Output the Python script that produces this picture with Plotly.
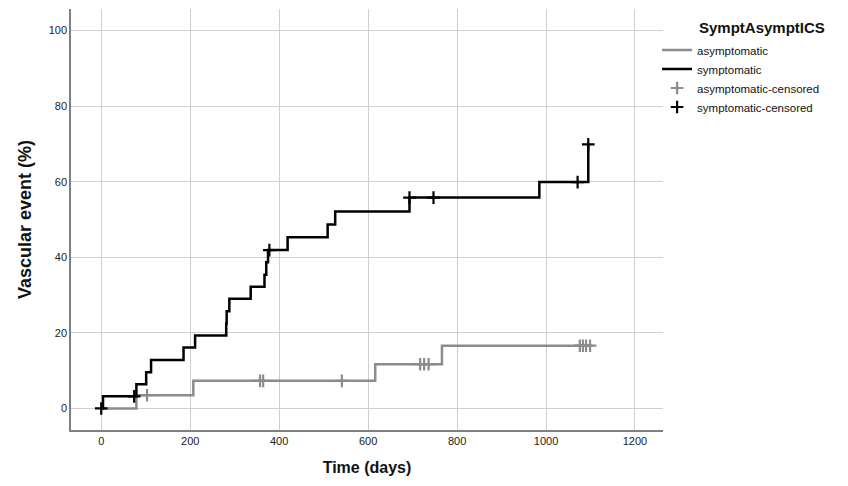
import plotly.graph_objects as go

# Symptomatic (black) Kaplan-Meier cumulative event curve
sym_time = [0, 4, 79, 101, 112, 185, 211, 281, 282, 288, 336, 367, 371, 375, 419, 509, 526, 693, 985, 1095]
sym_pct = [0, 3.2, 6.4, 9.6, 12.8, 16.1, 19.3, 22.5, 25.7, 29.0, 32.2, 35.4, 38.7, 41.9, 45.3, 48.7, 52.1, 55.8, 59.9, 69.9]
sym_cens_time = [0, 74, 378, 693, 747, 1071, 1095]
sym_cens_pct = [0, 3.2, 41.9, 55.8, 55.8, 59.9, 69.9]

# Asymptomatic (grey)
asym_time = [0, 79, 207, 616, 766]
asym_pct = [0, 3.5, 7.3, 11.7, 16.6]
asym_cens_time = [103, 357, 364, 541, 717, 726, 736, 1076, 1083, 1090, 1099]
asym_cens_pct = [3.5, 7.3, 7.3, 7.3, 11.7, 11.7, 11.7, 16.6, 16.6, 16.6, 16.6]

x_ticks = [0, 200, 400, 600, 800, 1000, 1200]
y_ticks = [0, 20, 40, 60, 80, 100]

GREY = "#8c8c8c"
BLACK = "#000000"

# extend step lines to the last censored observation
asym_line_t = asym_time + [max(asym_cens_time)]
asym_line_p = asym_pct + [asym_pct[-1]]
sym_line_t = sym_time + ([max(sym_cens_time)] if max(sym_cens_time) > sym_time[-1] else [])
sym_line_p = sym_pct + ([sym_pct[-1]] if max(sym_cens_time) > sym_time[-1] else [])

fig = go.Figure()
fig.add_trace(go.Scatter(x=asym_line_t, y=asym_line_p, mode="lines", line_shape="hv",
                         line=dict(color=GREY, width=2.5), name="asymptomatic"))
fig.add_trace(go.Scatter(x=sym_line_t, y=sym_line_p, mode="lines", line_shape="hv",
                         line=dict(color=BLACK, width=2.5), name="symptomatic"))
fig.add_trace(go.Scatter(x=asym_cens_time, y=asym_cens_pct, mode="markers",
                         marker=dict(symbol="cross-thin", size=9, line=dict(color=GREY, width=2.2)),
                         name="asymptomatic-censored"))
fig.add_trace(go.Scatter(x=sym_cens_time, y=sym_cens_pct, mode="markers",
                         marker=dict(symbol="cross-thin", size=9, line=dict(color=BLACK, width=2.2)),
                         name="symptomatic-censored"))

font_family = "Liberation Sans, Arial, sans-serif"
fig.update_layout(
    template="none",
    width=848, height=486,
    margin=dict(l=63, r=193, t=1, b=64, autoexpand=False),
    paper_bgcolor="white", plot_bgcolor="white",
    font=dict(family=font_family, color="#222"),
    legend=dict(
        x=0.990, y=0.937, xanchor="left", yanchor="top",
        font=dict(size=11.5, color="#111"),
        itemwidth=30, tracegroupgap=0, bgcolor="rgba(0,0,0,0)", borderwidth=0,
    ),
    annotations=[dict(
        text="<b>SymptAsymptICS</b>", xref="paper", yref="paper",
        x=1.0574, y=0.955, xanchor="left", yanchor="middle", showarrow=False,
        font=dict(size=15, color="#111"),
    )],
    xaxis=dict(
        range=[-68, 1263], tickvals=x_ticks, ticktext=[str(v) for v in x_ticks],
        showgrid=True, gridcolor="#cfcfcf", gridwidth=1, automargin=False,
        showline=True, linecolor="#808080", linewidth=1.5,
        zeroline=False, ticks="", tickfont=dict(size=11, color="#222222"),
        title=dict(text="<b>Time (days)</b>", font=dict(size=16, color="#111"), standoff=16),
    ),
    yaxis=dict(
        range=[-5.7, 105.7], tickvals=y_ticks, ticktext=[str(v) for v in y_ticks],
        showgrid=True, gridcolor="#cfcfcf", gridwidth=1, automargin=False,
        showline=True, linecolor="#808080", linewidth=1.5,
        zeroline=False, ticks="", tickfont=dict(size=11, color="#222222"),
        title=dict(text="<b>Vascular event (%)</b>", font=dict(size=18, color="#111"), standoff=12),
    ),
)

fig.write_html("out.html")
